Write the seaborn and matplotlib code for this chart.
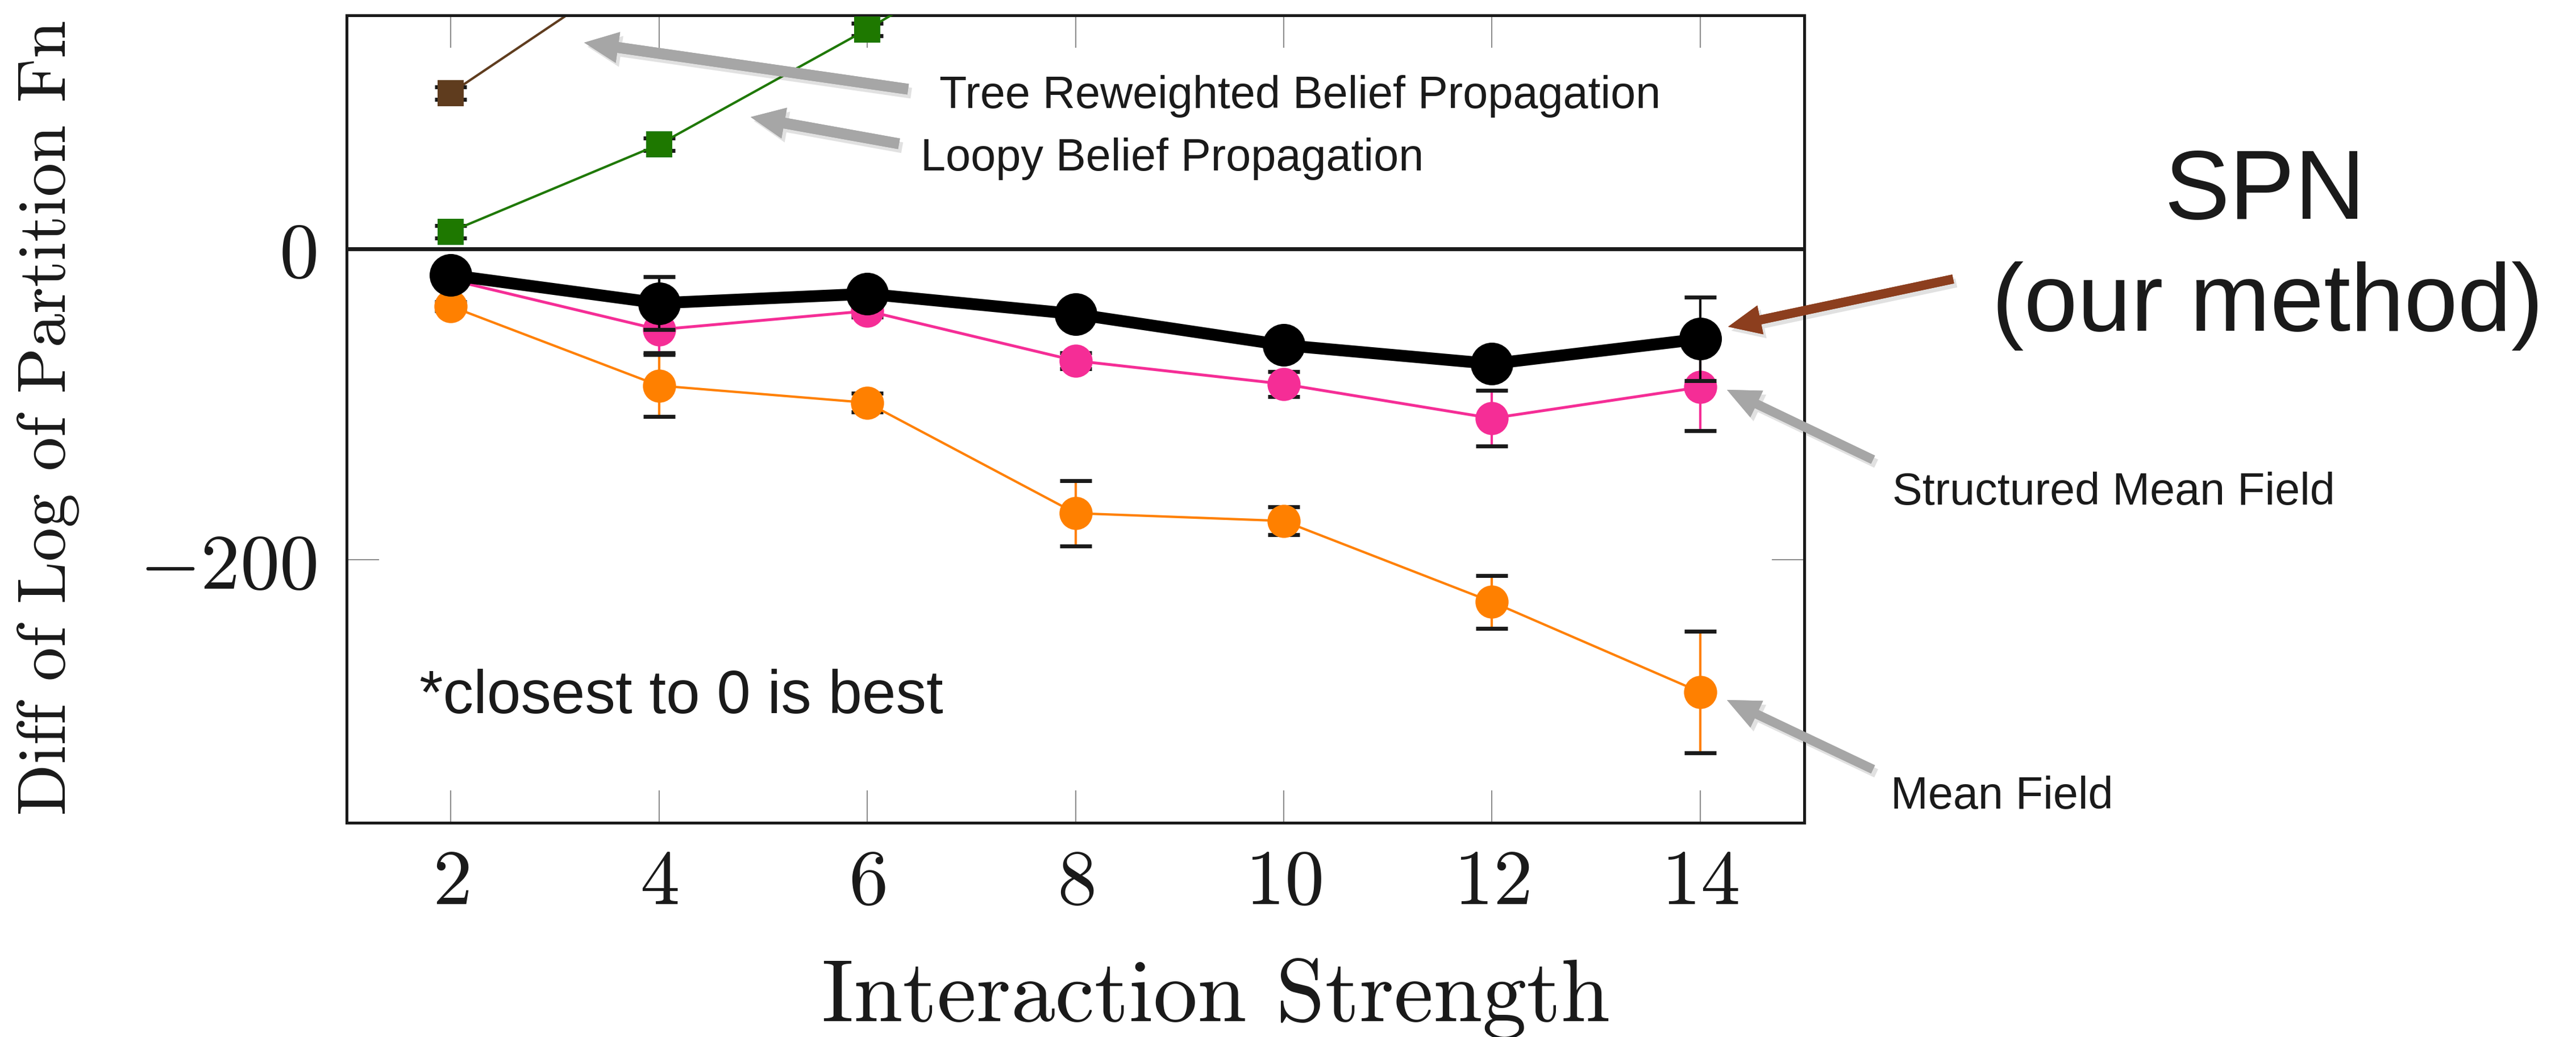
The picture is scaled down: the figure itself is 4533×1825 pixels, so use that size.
import matplotlib
matplotlib.use("Agg")
import matplotlib.pyplot as plt
import matplotlib.patheffects as pe
from matplotlib.patches import FancyArrow
from matplotlib.transforms import Affine2D
import seaborn as sns

# ---------------- data ----------------
strength = [2, 4, 6, 8, 10, 12, 14]
spn = [-17, -35, -29, -42, -62, -74, -58]
spn_err = [4, 17, 4, 5, 6, 5, 27]
smf = [-20, -52, -40, -72, -87, -109, -89]
smf_err = [4, 15, 4, 5, 8, 18, 28]
mf = [-37, -88, -99, -170, -175, -227, -285]
mf_err = [3, 20, 6, 21, 9, 17, 39]
lbp_x = [2, 4, 6, 8]
lbp = [11, 67, 141, 220]
lbp_err = [4, 4, 4, 4]
trw_x = [2, 4]
trw = [100, 190]
trw_err = [4, 4]

xtick_vals = [2, 4, 6, 8, 10, 12, 14]
xtick_labels = ["$2$", "$4$", "$6$", "$8$", "$10$", "$12$", "$14$"]
ytick_vals = [0, -200]
ytick_labels = ["$0$", "$-200$"]

C_SPN = "#000000"
C_SMF = "#F52D96"
C_MF = "#FF8000"
C_LBP = "#1E7800"
C_TRW = "#5F3C1E"

# ---------------- figure ----------------
sns.set_theme(style="white")
plt.rcParams["mathtext.fontset"] = "cm"
plt.rcParams["font.family"] = ["Liberation Sans", "DejaVu Sans"]
plt.rcParams["text.color"] = "k"

W, H = 4533, 1825
DPI = 100
fig = plt.figure(figsize=(W / DPI, H / DPI), dpi=DPI)
ax = fig.add_axes([610 / W, 1 - 1448 / H, (3175 - 610) / W, (1448 - 27) / H])
ax.set_facecolor("white")

ax.axhline(0, color="k", lw=5, zorder=1.5)


def series(xs, ys, es, color, marker, ms, lw, z, elw=3):
    n_before = len(ax.lines)
    sns.lineplot(x=xs, y=ys, color=color, marker=marker, ax=ax,
                 errorbar=None, legend=False)
    for ln in ax.lines[n_before:]:
        ln.set_linewidth(lw)
        ln.set_markersize(ms)
        ln.set_markeredgewidth(0)
        ln.set_markerfacecolor(color)
        ln.set_zorder(z + 0.2)
    eb = ax.errorbar(xs, ys, yerr=es, fmt="none", ecolor=color,
                     elinewidth=elw, capsize=20, capthick=5, zorder=z)
    for cap in eb[1]:
        cap.set_color("k")
        cap.set_markeredgecolor("k")
        cap.set_markerfacecolor("k")
        cap.set_zorder(z + 0.1)


series(trw_x, trw, trw_err, C_TRW, "s", 33, 3, 2)
series(lbp_x, lbp, lbp_err, C_LBP, "s", 33, 3, 2.5)
series(strength, mf, mf_err, C_MF, "o", 42, 3, 3)
series(strength, smf, smf_err, C_SMF, "o", 42, 3.6, 4)
series(strength, spn, spn_err, C_SPN, "o", 54, 15, 5, elw=3)

ax.set_xlim(1, 15)
ax.set_ylim(-369, 150)
ax.set_xticks(xtick_vals, labels=xtick_labels)
ax.set_yticks(ytick_vals, labels=ytick_labels)
ax.tick_params(axis="both", direction="in", length=41, width=1.5,
               color="#8c8c8c", labelsize=100, labelcolor="k")
ax.tick_params(axis="x", top=True, bottom=True, pad=30)
ax.tick_params(axis="y", left=True, right=True, pad=38)
for s in ax.spines.values():
    s.set_color("k")
    s.set_linewidth(3.6)
    s.set_visible(True)

ax.set_xlabel("Interaction Strength", family="cmr10", fontsize=112,
              va="baseline", ha="center", color="k")
ax.xaxis.set_label_coords((2140 - 610) / 2565, (1448 - 1797) / 1421)
ax.set_ylabel("Diff of Log of Partition Fn", family="cmr10", fontsize=86,
              va="center", ha="center", color="k")
ax.yaxis.set_label_coords((85 - 610) / 2565, (1448 - 735) / 1421)


# ---------------- annotations ----------------
def ftext(px, py, s, size, ha="left"):
    fig.text(px / W, 1 - py / H, s, fontsize=size, ha=ha, va="baseline",
             color="k", family=["Liberation Sans", "DejaVu Sans"])


ftext(1653, 190, "Tree Reweighted Belief Propagation", 57)
ftext(1620, 300, "Loopy Belief Propagation", 57)
ftext(3330, 888, "Structured Mean Field", 57)
ftext(3327, 1423, "Mean Field", 57)
ftext(738, 1255, "*closest to 0 is best", 77)
ftext(3985, 385, "SPN", 124, ha="center")
ftext(3990, 582, "(our method)", 122, ha="center")

tr = Affine2D().scale(1 / W, -1 / H).translate(0, 1) + fig.transFigure


def arrow(tail, tip, color, width=19, hw=55, hl=60):
    a = FancyArrow(tail[0], tail[1], tip[0] - tail[0], tip[1] - tail[1],
                   width=width, head_width=hw, head_length=hl,
                   length_includes_head=True, color=color, lw=0,
                   transform=tr)
    a.set_path_effects([pe.withSimplePatchShadow(offset=(4, -5),
                                                 shadow_rgbFace="k",
                                                 alpha=0.13), pe.Normal()])
    fig.add_artist(a)


GRAY = "#A6A6A6"
arrow((1598, 157), (1028, 75), GRAY)
arrow((1582, 253), (1321, 206), GRAY)
arrow((3437, 491), (3041, 575), "#8C3E1E", width=16, hw=52, hl=58)
arrow((3296, 809), (3039, 686), GRAY, width=16, hw=52, hl=58)
arrow((3296, 1354), (3039, 1232), GRAY, width=16, hw=52, hl=58)

fig.savefig("out.png", dpi=DPI)
